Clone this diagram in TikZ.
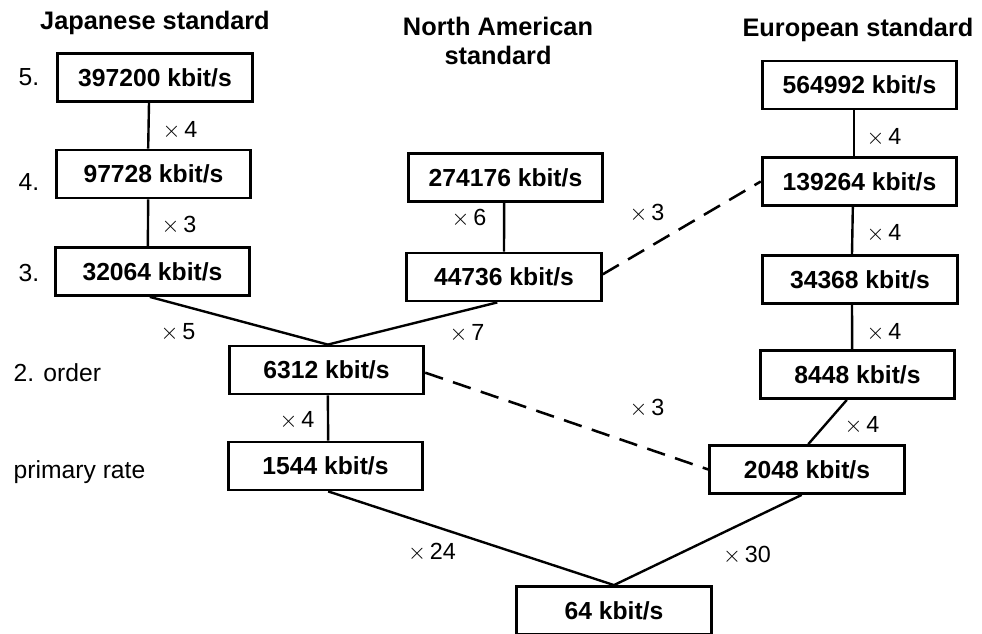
\documentclass[tikz,border=0pt]{standalone}
\usepackage{fontspec}
\setmainfont{Liberation Sans}
\usetikzlibrary{calc}
\begin{document}
\begin{tikzpicture}[x=0.75pt,y=-0.75pt,
  rate/.style={draw,line width=2.1pt,minimum width=146pt,minimum height=36pt,inner sep=0pt,
    font=\fontsize{18.5}{21}\selectfont\bfseries},
  head/.style={font=\fontsize{19}{22}\selectfont\bfseries,align=center},
  lvl/.style={font=\fontsize{18.5}{21}\selectfont,anchor=west},
  mult/.style={font=\fontsize{17.5}{20}\selectfont},
  link/.style={line width=1.8pt},
  xlink/.style={line width=1.9pt,dash pattern=on 14pt off 8pt}]
\useasboundingbox (0,0) rectangle (982,634);

% column headings
\node[head] (hj) at (155,23) {Japanese standard};
\node[head] (hn) at (498,41) {North American\\standard};
\node[head] (he) at (858,30) {European standard};

% hierarchy levels
\node[lvl] (l5) at (14,77) {5.};
\node[lvl] (l4) at (14,182) {4.};
\node[lvl] (l3) at (14,273) {3.};
\node[lvl] (l2) at (9,373) {2. order};
\node[lvl] (l1) at (9,472) {primary rate};

% Japanese hierarchy
\node[rate] (j5) at (155,77.5) {397200 kbit/s};
\node[rate] (j4) at (153.5,174) {97728 kbit/s};
\node[rate] (j3) at (152.5,271.5) {32064 kbit/s};

% North American hierarchy
\node[rate] (n4) at (505.5,177.5) {274176 kbit/s};
\node[rate] (n3) at (504,277) {44736 kbit/s};
\node[rate] (n2) at (326.5,370) {6312 kbit/s};
\node[rate] (n1) at (325.5,466) {1544 kbit/s};

% European hierarchy
\node[rate] (e5) at (859.5,85) {564992 kbit/s};
\node[rate] (e4) at (859.5,181.5) {139264 kbit/s};
\node[rate] (e3) at (860,279.5) {34368 kbit/s};
\node[rate] (e2) at (857.5,374.5) {8448 kbit/s};
\node[rate] (e1) at (807,469.5) {2048 kbit/s};

% basic channel
\node[rate] (b0) at (614,610.5) {64 kbit/s};

% multiplexing links
\draw[link] ([xshift=-4.5pt]j5.south) -- ([xshift=-4pt]j4.north);
\draw[link] ([xshift=-4pt]j4.south) -- ([xshift=-3.5pt]j3.north);
\draw[link] ([xshift=-2pt]j3.south) -- ([xshift=1pt]n2.north);
\draw[link] ([xshift=-1pt]n4.south) -- (n3.north);
\draw[link] ([xshift=-5pt]n3.south) -- ([xshift=1pt]n2.north);
\draw[link] ([xshift=1pt]n2.south) -- ([xshift=2pt]n1.north);
\draw[link] ([xshift=2pt]n1.south) -- (b0.north);
\draw[link] ([xshift=-4pt]e5.south) -- ([xshift=-4pt]e4.north);
\draw[link] ([xshift=-5pt]e4.south) -- ([xshift=-6pt]e3.north);
\draw[link] ([xshift=-6pt]e3.south) -- ([xshift=-4pt]e2.north);
\draw[link] ([xshift=-8pt]e2.south) -- ([xshift=1pt]e1.north);
\draw[link] ([xshift=-4pt]e1.south) -- (b0.north);

% interworking between hierarchies
\draw[xlink] ([yshift=2pt]n3.east) -- (e4.west);
\draw[xlink] ([yshift=-2pt]n2.east) -- (e1.west);

% multiplexing factors
\node[mult] (m1) at (180,130) {$\times$\,4};
\node[mult] (m2) at (179,225) {$\times$\,3};
\node[mult] (m3) at (178,332) {$\times$\,5};
\node[mult] (m4) at (469,218) {$\times$\,6};
\node[mult] (m5) at (467,333) {$\times$\,7};
\node[mult] (m6) at (647,213) {$\times$\,3};
\node[mult] (m7) at (884,137) {$\times$\,4};
\node[mult] (m8) at (884,233) {$\times$\,4};
\node[mult] (m9) at (884,332) {$\times$\,4};
\node[mult] (m10) at (862,425) {$\times$\,4};
\node[mult] (m11) at (647,408) {$\times$\,3};
\node[mult] (m12) at (297,420) {$\times$\,4};
\node[mult] (m13) at (432,552) {$\times$\,24};
\node[mult] (m14) at (747,555) {$\times$\,30};
\end{tikzpicture}
\end{document}
